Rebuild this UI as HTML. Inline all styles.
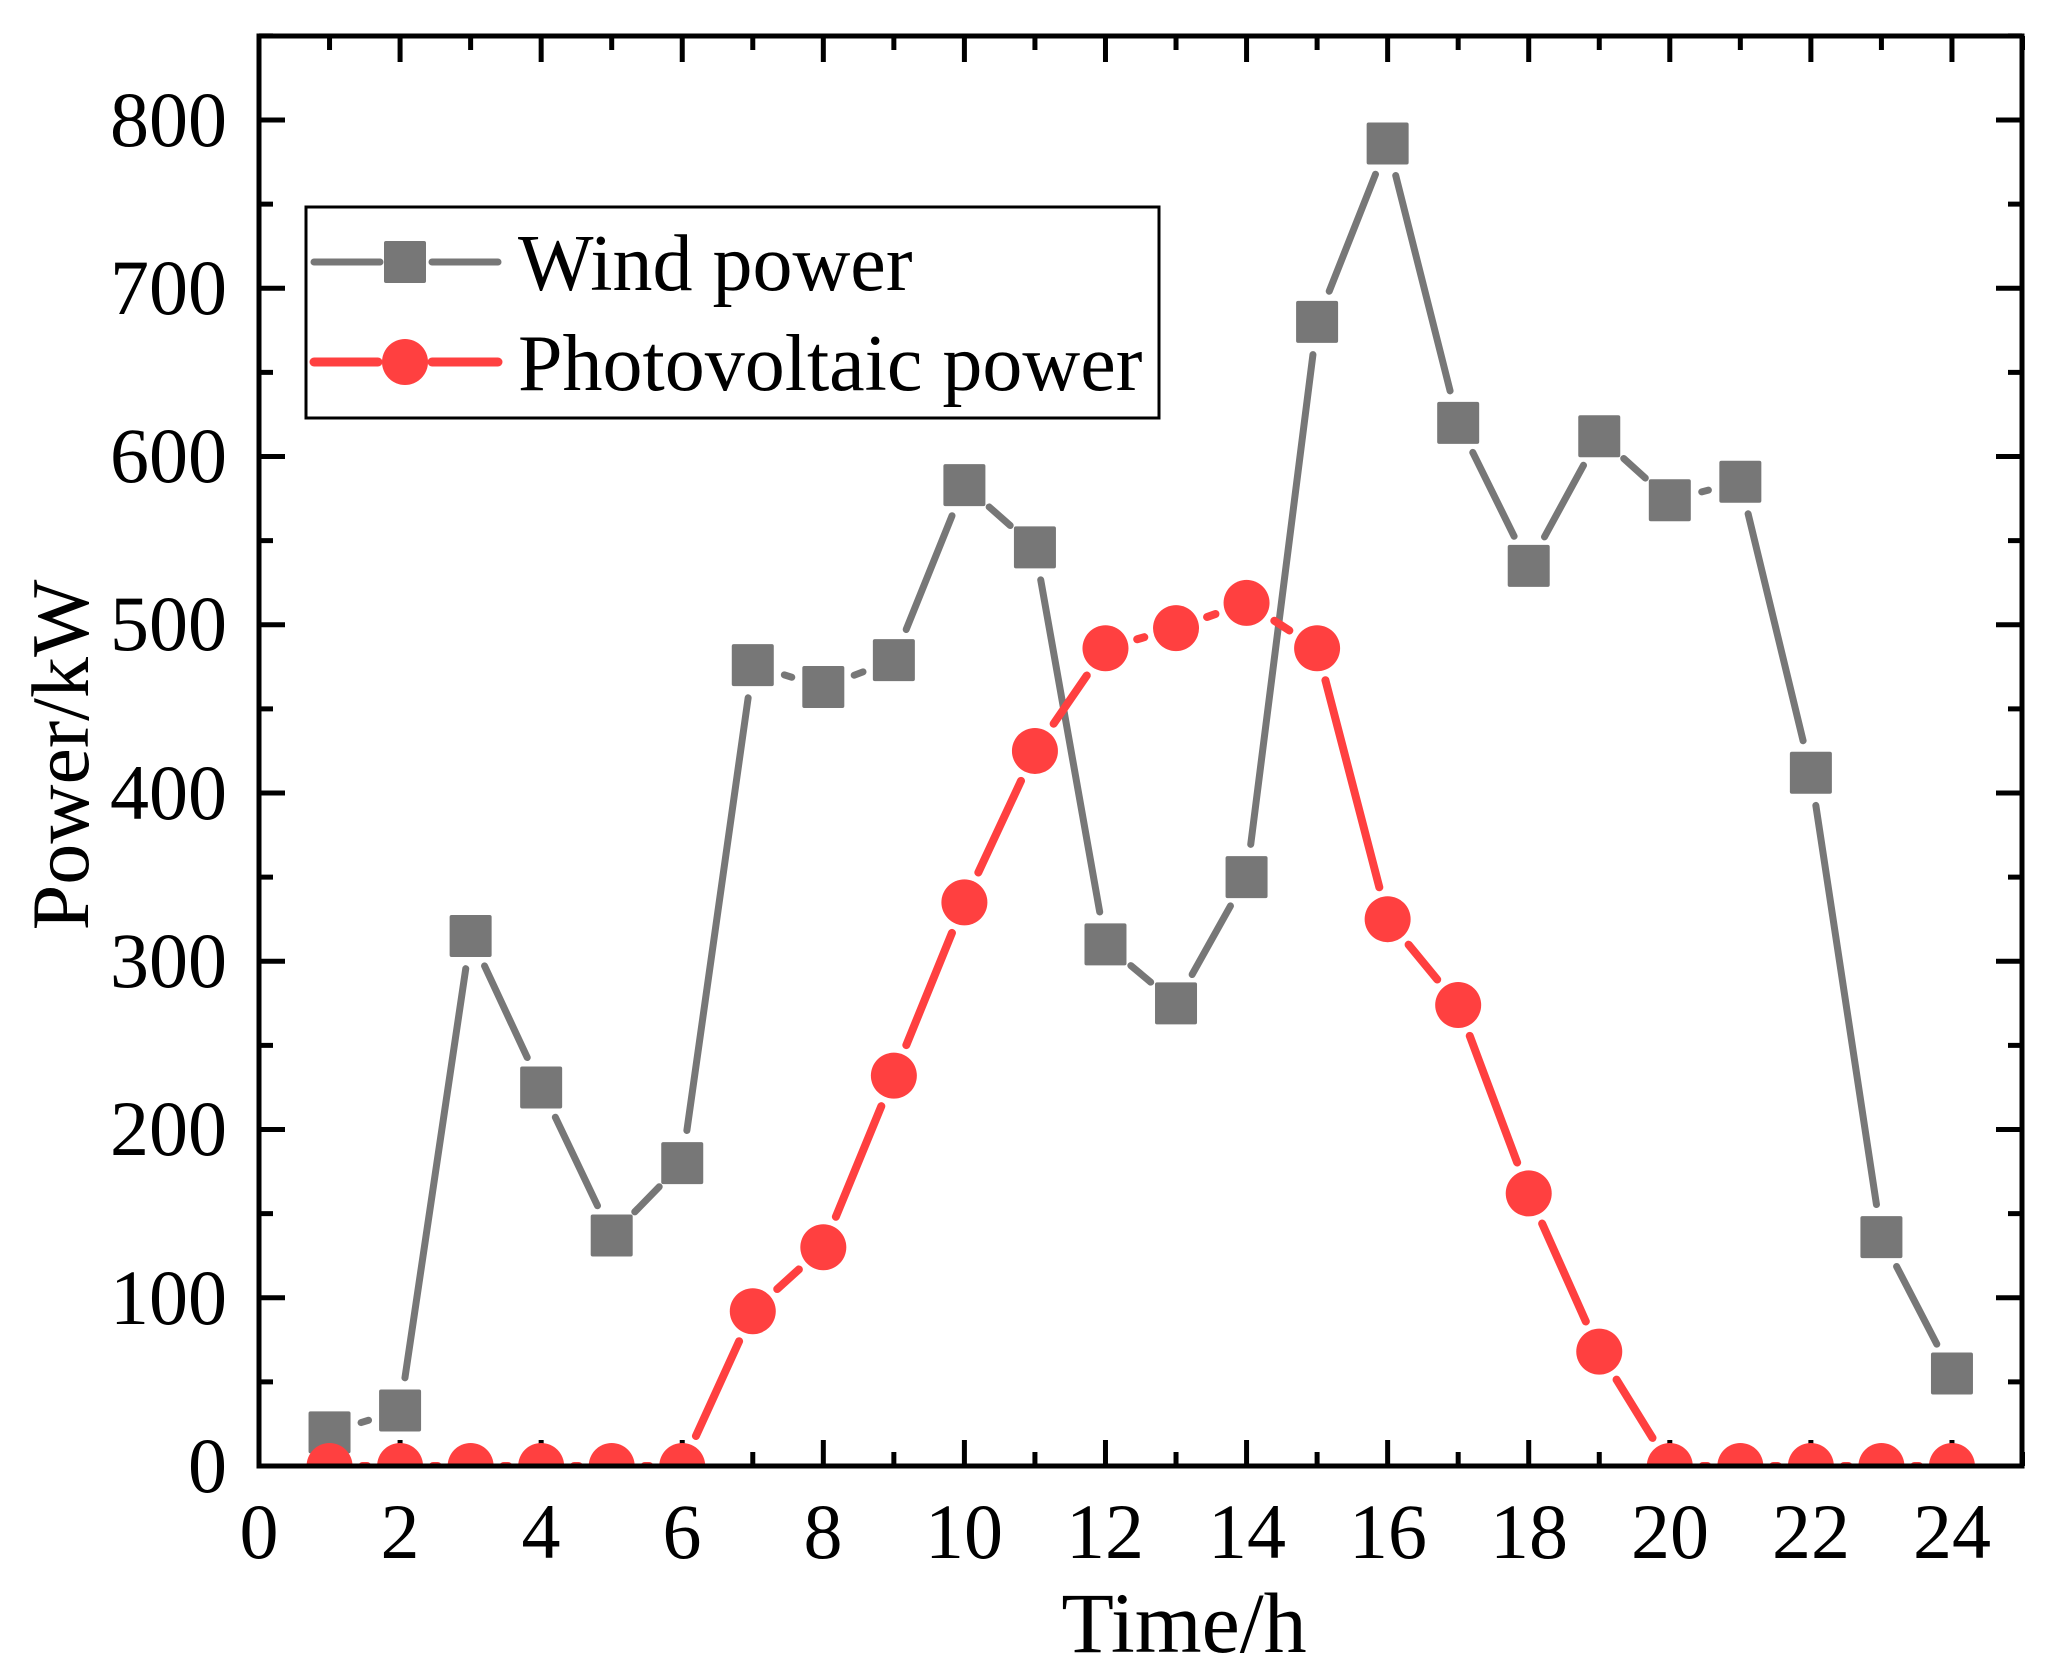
<!DOCTYPE html>
<html><head><meta charset="utf-8"><style>
html,body{margin:0;padding:0;background:#fff;}
svg{display:block;}
text{font-family:"Liberation Serif",serif;fill:#000;}
</style></head><body>
<svg id="s" width="2060" height="1679" viewBox="0 0 2060 1679" xmlns="http://www.w3.org/2000/svg">
<defs><clipPath id="cp"><rect x="259" y="36" width="1763" height="1430"/></clipPath></defs>
<g id="ticks" stroke="#000" stroke-width="5"></g>
<g id="lines" clip-path="url(#cp)"></g>
<rect x="259" y="36" width="1763" height="1430" fill="none" stroke="#000" stroke-width="5"/>
<g font-size="78" text-anchor="end">
<text x="227" y="1492">0</text>
<text x="227" y="1324">100</text>
<text x="227" y="1155">200</text>
<text x="227" y="987">300</text>
<text x="227" y="819">400</text>
<text x="227" y="650">500</text>
<text x="227" y="482">600</text>
<text x="227" y="314">700</text>
<text x="227" y="146">800</text>
</g>
<g font-size="78" text-anchor="middle">
<text x="259" y="1558">0</text>
<text x="400" y="1558">2</text>
<text x="541" y="1558">4</text>
<text x="682" y="1558">6</text>
<text x="823" y="1558">8</text>
<text x="964" y="1558">10</text>
<text x="1105" y="1558">12</text>
<text x="1247" y="1558">14</text>
<text x="1388" y="1558">16</text>
<text x="1529" y="1558">18</text>
<text x="1670" y="1558">20</text>
<text x="1811" y="1558">22</text>
<text x="1952" y="1558">24</text>
</g>
<text x="1184" y="1652" font-size="86" text-anchor="middle">Time/h</text>
<text transform="translate(88,755) rotate(-90)" font-size="82" text-anchor="middle">Power/kW</text>
<rect x="306" y="207" width="853" height="211" fill="#fff" stroke="#000" stroke-width="3"/>
<line x1="314" y1="262" x2="380" y2="262" stroke="#777" stroke-width="7" stroke-linecap="round"/>
<line x1="432" y1="262" x2="498" y2="262" stroke="#777" stroke-width="7" stroke-linecap="round"/>
<rect x="384" y="241" width="42" height="42" rx="2" fill="#777"/>
<line x1="314" y1="362" x2="378" y2="362" stroke="#ff4040" stroke-width="9" stroke-linecap="round"/>
<line x1="432" y1="362" x2="498" y2="362" stroke="#ff4040" stroke-width="9" stroke-linecap="round"/>
<circle cx="405" cy="362" r="23" fill="#ff4040"/>
<text x="518" y="290" font-size="80">Wind power</text>
<text x="518" y="390" font-size="80">Photovoltaic power</text>
</svg>
<script>
(function(){
var NS="http://www.w3.org/2000/svg";
var X=function(h){return 259+h*70.54;}, Y=function(v){return 1466-v*1.6825;};
var tg=document.getElementById('ticks'), lg=document.getElementById('lines');
function L(p,x1,y1,x2,y2,c,w){var l=document.createElementNS(NS,'line');l.setAttribute('x1',x1);l.setAttribute('y1',y1);l.setAttribute('x2',x2);l.setAttribute('y2',y2);if(c){l.setAttribute('stroke',c);l.setAttribute('stroke-width',w);l.setAttribute('stroke-linecap','round');}p.appendChild(l);}
for(var h=1;h<=25;h++){var x=X(h),len=(h%2==0)?26:14;L(tg,x,1466,x,1466-len);L(tg,x,36,x,36+len);}
for(var v=50;v<=850;v+=50){var y=Y(v),len=(v%100==0)?26:14;L(tg,259,y,259+len,y);L(tg,2022,y,2022-len,y);}
var wind=[20,33,315,225,137,180,476,463,479,583,546,310,275,350,680,786,620,535,612,574,585,412,136,55];
var pv=[0,0,0,0,0,0,92,130,232,335,425,486,498,513,486,325,274,162,68,0,0,0,0,0];
function series(d,col,w,gap,mk){
 for(var i=0;i<d.length-1;i++){var x1=X(i+1),y1=Y(d[i]),x2=X(i+2),y2=Y(d[i+1]);var dx=x2-x1,dy=y2-y1,D=Math.sqrt(dx*dx+dy*dy);if(D>2*gap+2){var ux=dx/D,uy=dy/D;L(lg,x1+ux*gap,y1+uy*gap,x2-ux*gap,y2-uy*gap,col,w);}}
 for(var i=0;i<d.length;i++){mk(X(i+1),Y(d[i]));}
}
series(wind,'#777',7,33,function(x,y){var r=document.createElementNS(NS,'rect');r.setAttribute('x',x-21);r.setAttribute('y',y-21);r.setAttribute('width',42);r.setAttribute('height',42);r.setAttribute('rx',2);r.setAttribute('fill','#777');lg.appendChild(r);});
series(pv,'#ff4040',8,33,function(x,y){var c=document.createElementNS(NS,'circle');c.setAttribute('cx',x);c.setAttribute('cy',y);c.setAttribute('r',23);c.setAttribute('fill','#ff4040');lg.appendChild(c);});
})();
</script>
</body></html>
